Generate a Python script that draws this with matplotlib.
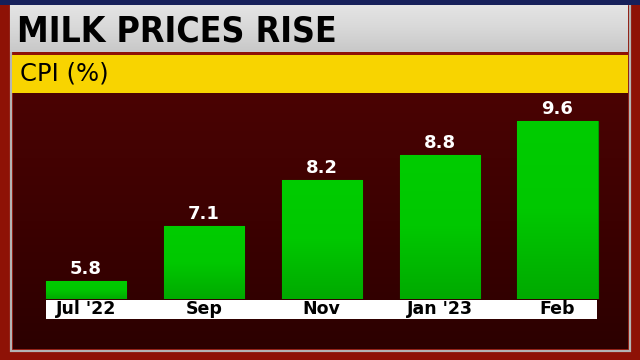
import numpy as np
import matplotlib
matplotlib.use('Agg')
import matplotlib.pyplot as plt
from matplotlib import font_manager
from matplotlib.font_manager import FontProperties
from matplotlib.patches import Rectangle
from matplotlib.colors import LinearSegmentedColormap

# data
months = ["Jul '22", "Sep", "Nov", "Jan '23", "Feb"]
cpi = [5.8, 7.1, 8.2, 8.8, 9.6]
title = "MILK PRICES RISE"
subtitle = "CPI (%)"


def narrow_bold():
    # look for a condensed bold face for the headline
    best = None
    for f in font_manager.fontManager.ttflist:
        name = f.name.lower()
        narrow = ('narrow' in name or 'condensed' in name or
                  str(f.stretch) in ('condensed', 'semi-condensed', 'extra-condensed', '500', '600'))
        bold = f.weight in ('bold', 700, 'heavy', 800, 'black', 900) or str(f.weight) in ('700', '800', '900')
        if narrow and bold and 'mono' not in name:
            rank = 0 if 'liberation' in name else 1 if 'dejavu' in name else 2
            if best is None or rank < best[0]:
                best = (rank, f.fname)
    if best:
        return FontProperties(fname=best[1])
    return FontProperties(family='DejaVu Sans', weight='bold')


fig = plt.figure(figsize=(6.4, 3.6), dpi=100)

# background frame in pixel coords
bg = fig.add_axes([0, 0, 1, 1])
bg.set_xlim(0, 640)
bg.set_ylim(360, 0)
bg.axis('off')

bg.add_patch(Rectangle((0, 0), 640, 360, fc='#8e1206', ec='none'))
bg.add_patch(Rectangle((10.5, 4), 619, 347, fc='none', ec='#b4b4b4', lw=1.6))

panel = LinearSegmentedColormap.from_list('panel', ['#4a0303', '#3c0101', '#2c0000'])
grad = np.linspace(0, 1, 100).reshape(-1, 1)
bg.imshow(grad, cmap=panel, extent=(13, 627.5, 349, 93), aspect='auto', zorder=1)

bg.add_patch(Rectangle((0, 0), 640, 5, fc='#16205a', ec='none', zorder=2))
grey = LinearSegmentedColormap.from_list('grey', ['#e4e4e4', '#d8d8d8', '#c8c8c8'])
bg.imshow(grad, cmap=grey, extent=(10, 628, 52, 5), aspect='auto', zorder=2)
bg.add_patch(Rectangle((12, 54.5), 616, 38, fc='#f8d400', ec='none', zorder=2))
bg.add_patch(Rectangle((46, 300), 551, 18.5, fc='white', ec='none', zorder=2))

tprop = narrow_bold()
tprop.set_size(31)
t = bg.text(17, 32, title, fontproperties=tprop, color='black',
            va='center', ha='left', zorder=3)
# shrink the headline if the face found is too wide
fig.canvas.draw()
w = t.get_window_extent().width
if w > 322:
    tprop.set_size(31 * 320 / w)
    t.set_fontproperties(tprop)

bg.text(20, 74, subtitle, fontsize=17.5, color='black', va='center', ha='left', zorder=3)

# bars
ax = fig.add_axes([27 / 640, 1 - 299 / 360, 589.5 / 640, 206 / 360])
ax.patch.set_alpha(0)
x = np.arange(len(months))
bars = ax.bar(x, cpi, width=0.68, color='#00c800', edgecolor='#009a00', lw=0.8, zorder=2)
ax.set_xlim(-0.5, len(months) - 0.5)
ax.set_ylim(5.37, 10.26)

green = LinearSegmentedColormap.from_list('green', ['#00cc00', '#00c800', '#00aa00'])
for b in bars:
    x0 = b.get_x()
    img = ax.imshow(np.linspace(0, 1, 100).reshape(-1, 1), cmap=green, aspect='auto',
                    extent=(x0, x0 + b.get_width(), 5.37, b.get_height()), zorder=2.5)
    img.set_clip_path(b)

ax.bar_label(bars, labels=[f'{v:.1f}' for v in cpi], padding=2, color='white',
             fontsize=13, fontweight='bold')

ax.set_xticks(x, months)
ax.tick_params(axis='x', length=0, pad=1.0, labelsize=12.5)
for lab in ax.get_xticklabels():
    lab.set_fontweight('bold')
ax.set_yticks([])
for s in ax.spines.values():
    s.set_visible(False)

fig.savefig('out.png', dpi=100)
